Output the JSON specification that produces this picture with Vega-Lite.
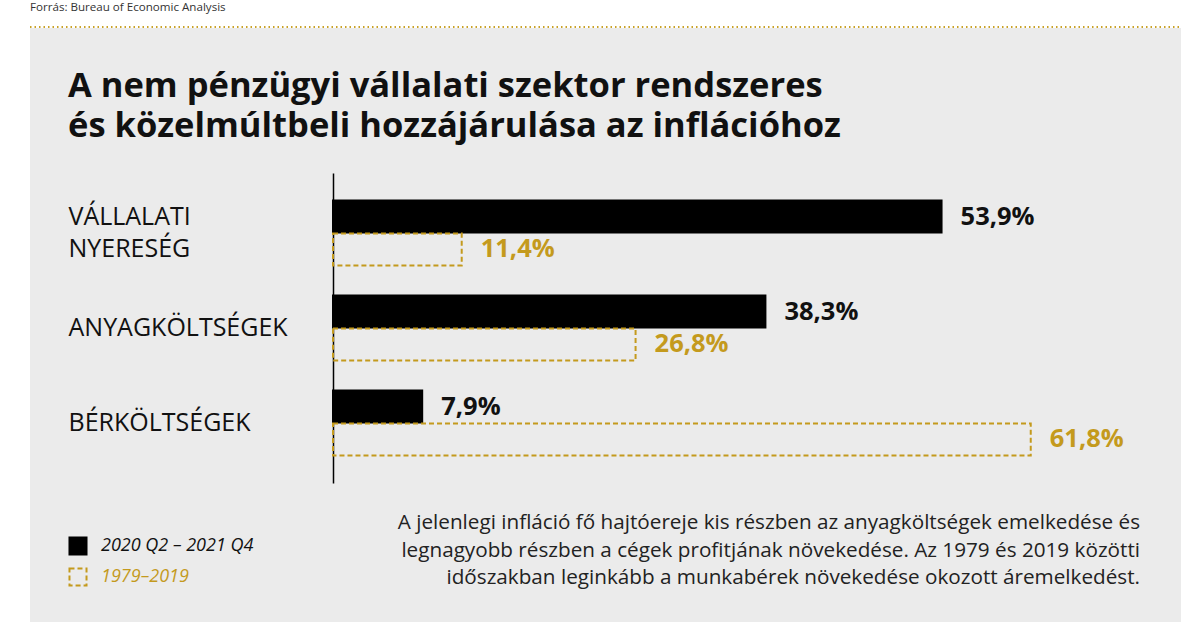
{
  "$schema": "https://vega.github.io/schema/vega-lite/v6.json",
  "width": 1151,
  "height": 594,
  "autosize": {"type": "none"},
  "padding": {"left": 30, "top": 28, "right": 19, "bottom": 13},
  "background": "#ffffff",
  "config": {
    "view": {"fill": "#ebebeb", "stroke": null},
    "font": "Open Sans"
  },
  "datasets": {
    "bars": [
      {"category": "VÁLLALATI NYERESÉG", "series": "2020 Q2 – 2021 Q4", "value": 53.9},
      {"category": "VÁLLALATI NYERESÉG", "series": "1979–2019", "value": 11.4},
      {"category": "ANYAGKÖLTSÉGEK", "series": "2020 Q2 – 2021 Q4", "value": 38.3},
      {"category": "ANYAGKÖLTSÉGEK", "series": "1979–2019", "value": 26.8},
      {"category": "BÉRKÖLTSÉGEK", "series": "2020 Q2 – 2021 Q4", "value": 7.9},
      {"category": "BÉRKÖLTSÉGEK", "series": "1979–2019", "value": 61.8}
    ]
  },
  "layer": [
    {
      "data": {"values": [{}]},
      "mark": {"type": "rule", "color": "#c9a227", "strokeWidth": 2, "strokeDash": [1.5, 3]},
      "encoding": {"y": {"value": -1}, "x": {"value": 0}, "x2": {"value": 1151}}
    },
    {
      "data": {"values": [{}]},
      "mark": {"type": "text", "text": "Forrás: Bureau of Economic Analysis", "align": "left", "baseline": "middle", "fontSize": 11.6, "color": "#333333"},
      "encoding": {"x": {"value": 0}, "y": {"value": -20}}
    },
    {
      "data": {"values": [{}]},
      "mark": {"type": "text", "text": ["A nem pénzügyi vállalati szektor rendszeres", "és közelmúltbeli hozzájárulása az inflációhoz"], "align": "left", "baseline": "alphabetic", "fontSize": 34.5, "fontWeight": "bold", "lineHeight": 40, "color": "#111111"},
      "encoding": {"x": {"value": 38}, "y": {"value": 69}}
    },
    {
      "data": {"values": [{}]},
      "mark": {"type": "text", "text": ["A jelenlegi infláció fő hajtóereje kis részben az anyagköltségek emelkedése és", "legnagyobb részben a cégek profitjának növekedése. Az 1979 és 2019 közötti", "időszakban leginkább a munkabérek növekedése okozott áremelkedést."], "align": "right", "baseline": "middle", "fontSize": 20.7, "lineHeight": 27.5, "color": "#222222"},
      "encoding": {"x": {"value": 1110}, "y": {"value": 495}}
    },
    {
      "data": {"name": "bars"},
      "mark": {"type": "bar", "strokeWidth": 2},
      "encoding": {
        "y": {
          "field": "category",
          "type": "nominal",
          "scale": {"domain": ["VÁLLALATI NYERESÉG", "ANYAGKÖLTSÉGEK", "BÉRKÖLTSÉGEK"], "range": [145, 455], "paddingInner": 0, "paddingOuter": 0.1316},
          "axis": {
            "title": null,
            "offset": -303,
            "domain": true,
            "domainColor": "#000000",
            "domainWidth": 1.5,
            "ticks": false,
            "grid": false,
            "labelPadding": 265,
            "labelAlign": "left",
            "labelBaseline": "middle",
            "labelFontSize": 25,
            "labelFont": "Open Sans",
            "labelColor": "#111111",
            "labelLimit": 400,
            "labelLineHeight": 32,
            "labelExpr": "datum.label == 'VÁLLALATI NYERESÉG' ? ['VÁLLALATI', 'NYERESÉG'] : datum.label",
            "labelOffset": {"condition": {"test": "datum.value == 'VÁLLALATI NYERESÉG'", "value": -16}, "value": 0}
          }
        },
        "yOffset": {
          "field": "series",
          "type": "nominal",
          "scale": {"domain": ["2020 Q2 – 2021 Q4", "1979–2019"], "paddingInner": 0.03, "paddingOuter": 0.4545}
        },
        "x": {
          "field": "value",
          "type": "quantitative",
          "scale": {"domain": [0, 62], "range": [303, 1003], "nice": false, "zero": true},
          "axis": null
        },
        "fill": {
          "field": "series",
          "type": "nominal",
          "scale": {"domain": ["2020 Q2 – 2021 Q4", "1979–2019"], "range": ["#000000", "transparent"]},
          "legend": {
            "title": null, "orient": "none", "legendX": 38, "legendY": 508,
            "symbolType": "square", "symbolSize": 290, "symbolStrokeWidth": 2,
            "labelFontSize": 18, "labelFont": "Open Sans", "labelFontStyle": "italic",
            "labelOffset": 13, "rowPadding": 5,
            "encode": {"labels": {"update": {"fill": {"signal": "datum.label == '1979–2019' ? '#c49a1d' : '#111111'"}}}}
          }
        },
        "stroke": {
          "field": "series",
          "type": "nominal",
          "scale": {"domain": ["2020 Q2 – 2021 Q4", "1979–2019"], "range": ["#000000", "#c49a1d"]},
          "legend": {
            "title": null, "orient": "none", "legendX": 38, "legendY": 508,
            "symbolType": "square", "symbolSize": 290, "symbolStrokeWidth": 2,
            "labelFontSize": 18, "labelFont": "Open Sans", "labelFontStyle": "italic",
            "labelOffset": 13, "rowPadding": 5,
            "encode": {"labels": {"update": {"fill": {"signal": "datum.label == '1979–2019' ? '#c49a1d' : '#111111'"}}}}
          }
        },
        "strokeDash": {
          "field": "series",
          "type": "nominal",
          "scale": {"domain": ["2020 Q2 – 2021 Q4", "1979–2019"], "range": [[1, 0], [5, 3]]},
          "legend": {
            "title": null, "orient": "none", "legendX": 38, "legendY": 508,
            "symbolType": "square", "symbolSize": 290, "symbolStrokeWidth": 2,
            "labelFontSize": 18, "labelFont": "Open Sans", "labelFontStyle": "italic",
            "labelOffset": 13, "rowPadding": 5,
            "encode": {"labels": {"update": {"fill": {"signal": "datum.label == '1979–2019' ? '#c49a1d' : '#111111'"}}}}
          }
        }
      }
    },
    {
      "data": {"name": "bars"},
      "transform": [{"calculate": "replace(format(datum.value, '.1f'), '.', ',') + '%'", "as": "label"}],
      "mark": {"type": "text", "align": "left", "baseline": "middle", "dx": 19, "fontSize": 25.5, "fontWeight": "bold"},
      "encoding": {
        "y": {"field": "category", "type": "nominal"},
        "yOffset": {"field": "series", "type": "nominal"},
        "x": {"field": "value", "type": "quantitative"},
        "text": {"field": "label"},
        "color": {
          "field": "series",
          "type": "nominal",
          "scale": {"domain": ["2020 Q2 – 2021 Q4", "1979–2019"], "range": ["#111111", "#c49a1d"]},
          "legend": null
        }
      }
    }
  ]
}
